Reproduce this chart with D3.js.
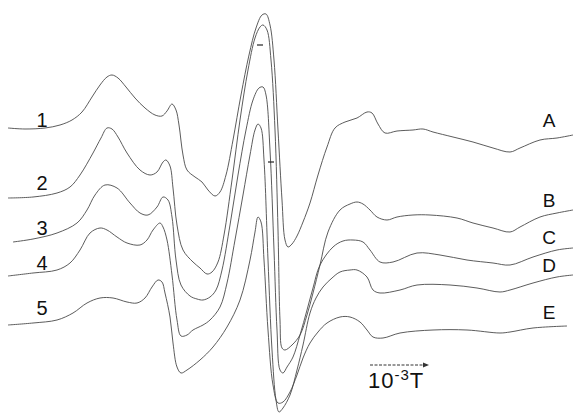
<!DOCTYPE html>
<html><head><meta charset="utf-8">
<script src="https://cdn.jsdelivr.net/npm/d3@7"></script>
<style>html,body{margin:0;padding:0;background:#fff;}svg{display:block;}</style>
</head><body>
<script>
// Field axis (arbitrary units, left to right) and derivative signal (screen units, downward)
const spectrumA = [[8,128],[25,129],[45,128],[60,125],[72,120],[82,112],[92,97],[100,85],[107,77],[112,75],[118,78],[126,87],[135,98],[145,108],[155,115],[162,116],[167,111],[172,104],[176,110],[179,125],[183,155],[187,170],[195,177],[202,182],[208,190],[215,196],[220,192],[226,175],[233,140],[241,95],[249,55],[256,28],[262,15],[266,14],[270,25],[274,60],[278,130],[282,200],[285,240],[288,247],[292,244],[297,236],[303,222],[310,203],[318,175],[327,147],[335,128],[345,122],[357,118],[367,112],[372,113],[378,124],[385,133],[397,131],[413,130],[423,129],[433,132],[453,137],[473,142],[493,148],[510,152],[520,148],[540,140],[557,138],[573,135]];
const spectrumB = [[8,198],[33,197],[57,193],[70,187],[80,175],[93,153],[101,138],[107,128],[112,129],[118,137],[127,153],[140,170],[150,175],[157,172],[163,162],[166,160],[170,166],[173,188],[177,225],[183,250],[193,262],[200,268],[207,274],[212,272],[218,262],[224,235],[232,180],[240,120],[248,70],[255,38],[260,27],[263,25],[267,30],[271,60],[275,130],[278,230],[280,320],[282,348],[285,350],[292,345],[300,335],[307,315],[313,293],[320,265],[328,232],[340,210],[350,204],[357,202],[363,204],[370,210],[377,217],[387,220],[397,217],[413,215],[430,215],[457,218],[473,223],[493,228],[510,232],[520,227],[540,217],[557,213],[573,210]];
const spectrumC = [[13,242],[33,239],[57,233],[77,223],[87,210],[95,195],[105,185],[117,188],[130,203],[140,213],[148,215],[157,207],[163,197],[168,200],[172,217],[176,260],[181,285],[190,296],[197,299],[203,300],[210,297],[216,290],[222,270],[230,225],[238,175],[246,130],[253,100],[259,88],[263,87],[266,95],[270,150],[274,250],[277,330],[280,370],[283,373],[287,367],[293,357],[300,335],[307,310],[313,288],[320,265],[333,247],[343,241],[353,240],[363,242],[370,250],[380,262],[393,262],[417,253],[440,255],[467,260],[493,263],[510,265],[533,257],[557,250],[573,248]];
const spectrumD = [[8,276],[33,273],[57,270],[70,263],[80,250],[90,233],[100,228],[107,230],[117,237],[127,243],[140,245],[147,240],[153,230],[160,223],[163,227],[167,240],[172,275],[177,320],[181,336],[187,335],[193,330],[203,325],[210,320],[220,307],[227,283],[235,240],[243,195],[250,155],[255,130],[258,124],[261,128],[264,160],[268,260],[272,350],[276,400],[279,412],[283,408],[290,395],[297,370],[303,345],[310,313],[316,298],[323,287],[332,278],[340,272],[350,270],[357,270],[367,277],[373,290],[380,293],[400,290],[417,285],[450,285],[477,288],[500,292],[510,290],[533,283],[557,277],[573,275]];
const spectrumE = [[8,325],[33,323],[57,320],[73,313],[87,303],[100,298],[113,298],[127,302],[137,303],[145,298],[152,287],[158,280],[162,282],[165,293],[170,317],[173,343],[177,367],[181,373],[187,370],[200,360],[213,347],[227,327],[240,300],[250,260],[255,232],[258,217],[261,222],[264,260],[268,330],[273,385],[278,403],[283,402],[290,392],[297,375],[303,358],[310,343],[318,332],[327,323],[340,317],[350,317],[360,322],[367,330],[373,337],[383,338],[400,333],[433,330],[467,330],[500,333],[510,332],[533,328],[567,326]];

const leftLabels = ["1","2","3","4","5"];
const leftLabelY = [120,183,228,263,308];
const rightLabels = ["A","B","C","D","E"];
const rightLabelY = [120,200,237,265,312];
const markerX = [260,271];
const markerY = [45,162];
const scaleBarField = [370,428];
const scaleBarY = 365;
const scaleBarText = "10";
const scaleBarExp = "-3";
const scaleBarUnit = "T";

const W = 575, H = 417;
const x = d3.scaleLinear().domain([0,575]).range([0,W]);
const y = d3.scaleLinear().domain([0,417]).range([0,H]);

const svg = d3.select("body").append("svg").attr("width",W).attr("height",H);

const line = d3.line().x(d=>x(d[0])).y(d=>y(d[1])).curve(d3.curveCatmullRom.alpha(0.5));
const series = [spectrumA,spectrumB,spectrumC,spectrumD,spectrumE];
svg.selectAll("path.spec").data(series).enter().append("path")
  .attr("class","spec").attr("d",line)
  .attr("fill","none").attr("stroke","#4a4a4a").attr("stroke-width",0.9)
  .attr("stroke-linejoin","round");

svg.selectAll("line.mk").data(markerX).enter().append("line")
  .attr("x1",(d)=>x(d-3)).attr("x2",(d)=>x(d+3))
  .attr("y1",(d,i)=>y(markerY[i])).attr("y2",(d,i)=>y(markerY[i]))
  .attr("stroke","#222").attr("stroke-width",1.2);

const font = "'Liberation Sans', Arial, sans-serif";
svg.selectAll("text.ll").data(leftLabels).enter().append("text")
  .attr("x",x(42)).attr("y",(d,i)=>y(leftLabelY[i])+7)
  .attr("text-anchor","middle").attr("font-family",font).attr("font-size",20)
  .attr("fill","#111").text(d=>d);
svg.selectAll("text.rl").data(rightLabels).enter().append("text")
  .attr("x",x(549)).attr("y",(d,i)=>y(rightLabelY[i])+7)
  .attr("text-anchor","middle").attr("font-family",font).attr("font-size",19)
  .attr("fill","#111").text(d=>d);

// scale bar
svg.append("line").attr("x1",x(scaleBarField[0])).attr("x2",x(scaleBarField[1]))
  .attr("y1",y(scaleBarY)).attr("y2",y(scaleBarY))
  .attr("stroke","#333").attr("stroke-width",1).attr("stroke-dasharray","3,1.5");
svg.append("path").attr("d",`M${x(scaleBarField[1])-5},${y(scaleBarY)-2.5}L${x(scaleBarField[1])+1},${y(scaleBarY)}L${x(scaleBarField[1])-5},${y(scaleBarY)+2.5}Z`)
  .attr("fill","#333");
const t = svg.append("text").attr("x",x(368)).attr("y",y(388))
  .attr("font-family",font).attr("font-size",22).attr("letter-spacing",1).attr("fill","#111");
t.append("tspan").text(scaleBarText);
t.append("tspan").attr("font-size",15).attr("dy",-8).text(scaleBarExp);
t.append("tspan").attr("dy",8).text(scaleBarUnit);
</script>
</body></html>
